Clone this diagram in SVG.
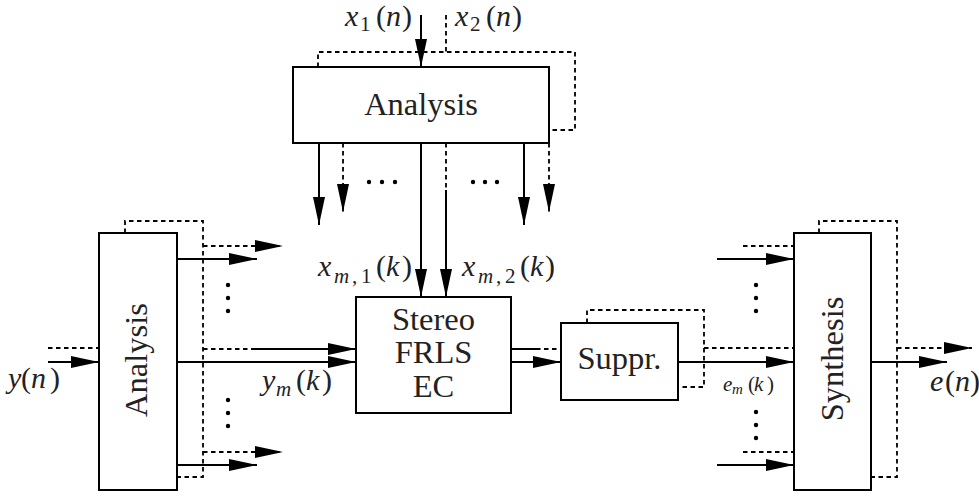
<svg xmlns="http://www.w3.org/2000/svg" width="979" height="496" viewBox="0 0 979 496">
<defs>
<marker id="ah" viewBox="0 0 28 12" markerWidth="28" markerHeight="12" refX="28" refY="6" orient="auto" markerUnits="userSpaceOnUse">
<path d="M0,0 L28,6 L0,12 Z" fill="#000"/>
</marker>
<style>
.box{fill:#fff;stroke:#000;stroke-width:2}
.s{fill:none;stroke:#000;stroke-width:2}
.d{fill:none;stroke:#000;stroke-width:1.8;stroke-dasharray:4.5 3.5}
.a{marker-end:url(#ah)}
.lbl{font-family:"Liberation Serif","Times New Roman",serif;font-size:32.5px;fill:#222}
.m{font-family:"Liberation Serif","Times New Roman",serif;font-size:30px;fill:#222}
.i{font-style:italic}
.sub{font-size:21px}
.dot{fill:#000}
</style>
</defs>
<rect width="979" height="496" fill="#fff"/>
<g id="connectors">
<path class="s a" d="M421,15 V67"/>
<path class="d" d="M446,15 V52"/>
<path class="d" d="M318,67 V52 H575 V130 H549"/>
<path class="s a" d="M319,143 V225"/>
<path class="d a" d="M343,143 V212"/>
<path class="s a" d="M421,143 V297"/>
<path class="d" d="M446,143 V190"/>
<path class="s a" d="M446,190 V297"/>
<path class="s a" d="M524,143 V225"/>
<path class="d a" d="M549,143 V212"/>
<path class="d" d="M48,348 H99"/>
<path class="s a" d="M48,362 H99"/>
<path class="d" d="M125,233 V221 H203 V477 H177"/>
<path class="d a" d="M203,246 H283"/>
<path class="s a" d="M177,259 H257"/>
<path class="d" d="M203,349 H251"/>
<path class="s a" d="M251,349 H356"/>
<path class="s a" d="M177,362 H356"/>
<path class="d a" d="M203,452 H283"/>
<path class="s a" d="M177,465 H257"/>
<path class="s" d="M511,349 H536"/>
<path class="d" d="M536,349 H561"/>
<path class="s a" d="M511,362 H561"/>
<path class="d" d="M587,323 V310 H704 V387 H678"/>
<path class="d" d="M704,348 H794"/>
<path class="s a" d="M678,362 H794"/>
<path class="d" d="M743,246 H794"/>
<path class="s a" d="M717,259 H794"/>
<path class="d" d="M743,452 H794"/>
<path class="s a" d="M717,465 H794"/>
<path class="d" d="M819,233 V221 H897 V477 H871"/>
<path class="s a" d="M871,362 H947"/>
<path class="d a" d="M897,348 H972"/>
<circle class="dot" cx="369" cy="182" r="2.2"/>
<circle class="dot" cx="382" cy="182" r="2.2"/>
<circle class="dot" cx="395" cy="182" r="2.2"/>
<circle class="dot" cx="473" cy="182" r="2.2"/>
<circle class="dot" cx="485" cy="182" r="2.2"/>
<circle class="dot" cx="497" cy="182" r="2.2"/>
<circle class="dot" cx="228" cy="285" r="2.2"/>
<circle class="dot" cx="228" cy="298" r="2.2"/>
<circle class="dot" cx="228" cy="311" r="2.2"/>
<circle class="dot" cx="228" cy="400" r="2.2"/>
<circle class="dot" cx="228" cy="413" r="2.2"/>
<circle class="dot" cx="228" cy="426" r="2.2"/>
<circle class="dot" cx="756" cy="285" r="2.2"/>
<circle class="dot" cx="756" cy="298" r="2.2"/>
<circle class="dot" cx="756" cy="311" r="2.2"/>
<circle class="dot" cx="756" cy="412" r="2.2"/>
<circle class="dot" cx="756" cy="425" r="2.2"/>
<circle class="dot" cx="756" cy="438" r="2.2"/>
</g>
<g id="analysis-top">
<rect class="box" x="293" y="67" width="256" height="76"/>
<text class="lbl" x="421" y="115" text-anchor="middle">Analysis</text>
</g>
<g id="analysis-left">
<rect class="box" x="99" y="233" width="78" height="257"/>
<text class="lbl" transform="translate(147,360) rotate(-90)" text-anchor="middle">Analysis</text>
</g>
<g id="stereo">
<rect class="box" x="356" y="297" width="155" height="116"/>
<text class="lbl" x="433.5" y="330" text-anchor="middle">Stereo</text>
<text class="lbl" x="433.5" y="363" text-anchor="middle">FRLS</text>
<text class="lbl" x="433.5" y="397" text-anchor="middle">EC</text>
</g>
<g id="suppr">
<rect class="box" x="561" y="323" width="117" height="77"/>
<text class="lbl" x="619.5" y="369" text-anchor="middle">Suppr.</text>
</g>
<g id="synthesis">
<rect class="box" x="794" y="233" width="77" height="257"/>
<text class="lbl" transform="translate(843,359) rotate(-90)" text-anchor="middle">Synthesis</text>
</g>
<g id="labels">
<text class="m"><tspan class="i" x="345" y="26">x</tspan><tspan class="sub" x="360" y="31">1</tspan><tspan x="376" y="26">(</tspan><tspan class="i" x="386" y="26">n</tspan><tspan x="402" y="26">)</tspan></text>
<text class="m"><tspan class="i" x="455" y="26">x</tspan><tspan class="sub" x="470" y="31">2</tspan><tspan x="486" y="26">(</tspan><tspan class="i" x="496" y="26">n</tspan><tspan x="512" y="26">)</tspan></text>
<text class="m"><tspan class="i" x="318" y="276">x</tspan><tspan class="sub i" x="334" y="283">m</tspan><tspan class="sub" x="352" y="283">,</tspan><tspan class="sub" x="361" y="283">1</tspan><tspan x="376" y="276">(</tspan><tspan class="i" x="386" y="276">k</tspan><tspan x="402" y="276">)</tspan></text>
<text class="m"><tspan class="i" x="462" y="276">x</tspan><tspan class="sub i" x="478" y="283">m</tspan><tspan class="sub" x="496" y="283">,</tspan><tspan class="sub" x="505" y="283">2</tspan><tspan x="520" y="276">(</tspan><tspan class="i" x="530" y="276">k</tspan><tspan x="545" y="276">)</tspan></text>
<text class="m"><tspan class="i" x="262" y="390">y</tspan><tspan class="sub i" x="276" y="396">m</tspan><tspan x="296" y="390">(</tspan><tspan class="i" x="306" y="390">k</tspan><tspan x="322" y="390">)</tspan></text>
<text class="m"><tspan class="i" x="8" y="388">y</tspan><tspan x="21" y="388">(</tspan><tspan class="i" x="31" y="388">n</tspan><tspan x="50" y="388">)</tspan></text>
<text class="m" style="font-size:21px"><tspan class="i" x="723" y="391">e</tspan><tspan class="i" style="font-size:15px" x="732" y="394">m</tspan><tspan x="748" y="391">(</tspan><tspan class="i" x="754" y="391">k</tspan><tspan x="767" y="391">)</tspan></text>
<text class="m"><tspan class="i" x="930" y="391">e</tspan><tspan x="945" y="391">(</tspan><tspan class="i" x="955" y="391">n</tspan><tspan x="970" y="391">)</tspan></text>
</g>
</svg>
